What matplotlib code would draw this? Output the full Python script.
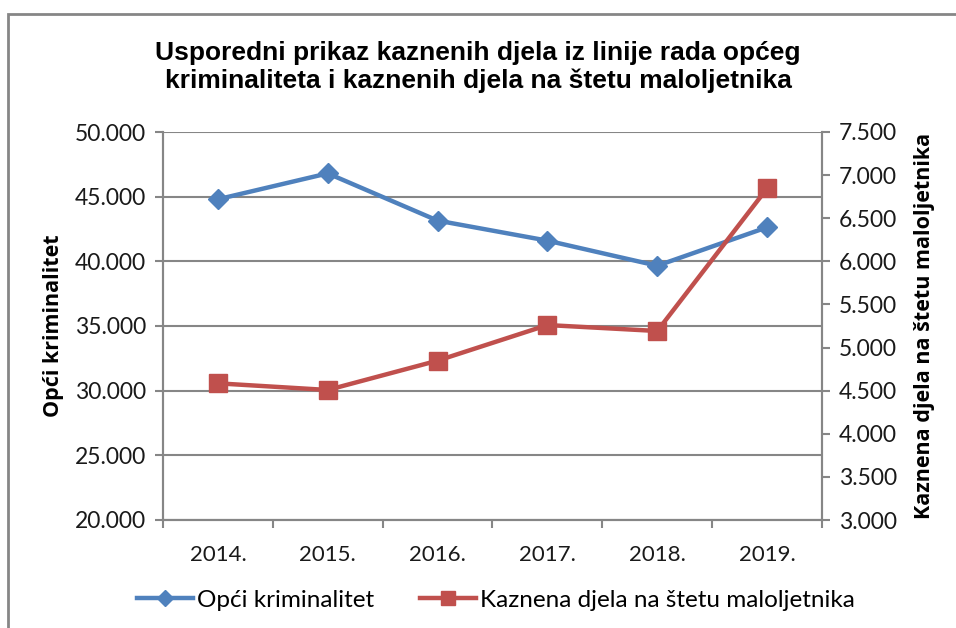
import matplotlib.pyplot as plt
from matplotlib.patches import Rectangle

# godine i broj kaznenih djela
godine = ['2014.', '2015.', '2016.', '2017.', '2018.', '2019.']
opci_kriminalitet = [44800, 46800, 43150, 41600, 39660, 42630]
maloljetnici = [4585, 4508, 4848, 5261, 5192, 6846]

plava = '#4F81BD'
crvena = '#C0504D'
siva = '#868686'

plt.rcParams['font.family'] = ['Lato', 'DejaVu Sans']
podebljano = ['Open Sans', 'DejaVu Sans']


def tocke(vrijednosti):
    # hrvatski zapis tisuca s tockom
    return ['{:,}'.format(v).replace(',', '.') for v in vrijednosti]


fig = plt.figure(figsize=(9.56, 6.28), dpi=100)
ax = fig.add_axes([163 / 956, 1 - 520 / 628, (822 - 163) / 956, (520 - 132) / 628])
ax2 = ax.twinx()

x = range(len(godine))
ax.plot(x, opci_kriminalitet, color=plava, lw=3.2, marker='D', ms=10,
        label='Opći kriminalitet', zorder=3)
ax2.plot(x, maloljetnici, color=crvena, lw=3.2, marker='s', ms=13,
         label='Kaznena djela na štetu maloljetnika', zorder=3)

ax.set_xlim(-0.5, len(godine) - 0.5)
ax.set_ylim(20000, 50000)
ax2.set_ylim(3000, 7500)
lijevo = list(range(20000, 50001, 5000))
desno = list(range(3000, 7501, 500))
ax.set_yticks(lijevo)
ax2.set_yticks(desno)
ax.set_yticklabels(tocke(lijevo))
ax2.set_yticklabels(tocke(desno))

# oznake kategorija u sredini, crtice na granicama
ax.set_xticks(x)
ax.set_xticklabels(godine)
ax.set_xticks([i - 0.5 for i in range(len(godine) + 1)], minor=True)
ax.tick_params(axis='x', which='major', length=0, pad=18, labelsize=16, labelcolor='#1a1a1a')
ax.tick_params(axis='x', which='minor', length=6, width=1.5, color=siva)
ax.tick_params(axis='y', length=6, width=1.5, color=siva, labelsize=16.5, pad=6, labelcolor='#1a1a1a')
ax2.tick_params(axis='y', length=6, width=1.5, color=siva, labelsize=16.5, pad=6, labelcolor='#1a1a1a')

ax.grid(axis='y', color=siva, lw=1.5)
ax.set_axisbelow(True)
for a in (ax, ax2):
    for s in a.spines.values():
        s.set_color(siva)
        s.set_linewidth(1.5)
    a.spines['top'].set_visible(False)

ax.set_ylabel('Opći kriminalitet', fontsize=15.5, fontweight='bold',
              family=podebljano, labelpad=8)
ax2.set_ylabel('Kaznena djela na štetu maloljetnika', fontsize=15.5,
               fontweight='bold', family=podebljano, rotation=90, labelpad=12)

fig.text(0.5, 1 - 67 / 628,
         'Usporedni prikaz kaznenih djela iz linije rada općeg\n'
         'kriminaliteta i kaznenih djela na štetu maloljetnika',
         ha='center', va='center', fontsize=19, fontweight='bold',
         family=['Liberation Sans', 'DejaVu Sans'], linespacing=1.2)

h1, l1 = ax.get_legend_handles_labels()
h2, l2 = ax2.get_legend_handles_labels()
fig.legend(h1 + h2, l1 + l2, loc='center', bbox_to_anchor=(496 / 956, 1 - 600 / 628),
           ncol=2, frameon=False, fontsize=17.5, handlelength=2.3,
           columnspacing=1.9, handletextpad=0.15, markerscale=0.8)

# okvir grafikona, desni i donji rub su izvan slike
fig.patches.append(Rectangle((8 / 956, -0.05), 1.0, 1 - 14 / 628 + 0.05,
                             transform=fig.transFigure, fill=False,
                             edgecolor=siva, lw=2))

fig.savefig('out.png', dpi=100)
